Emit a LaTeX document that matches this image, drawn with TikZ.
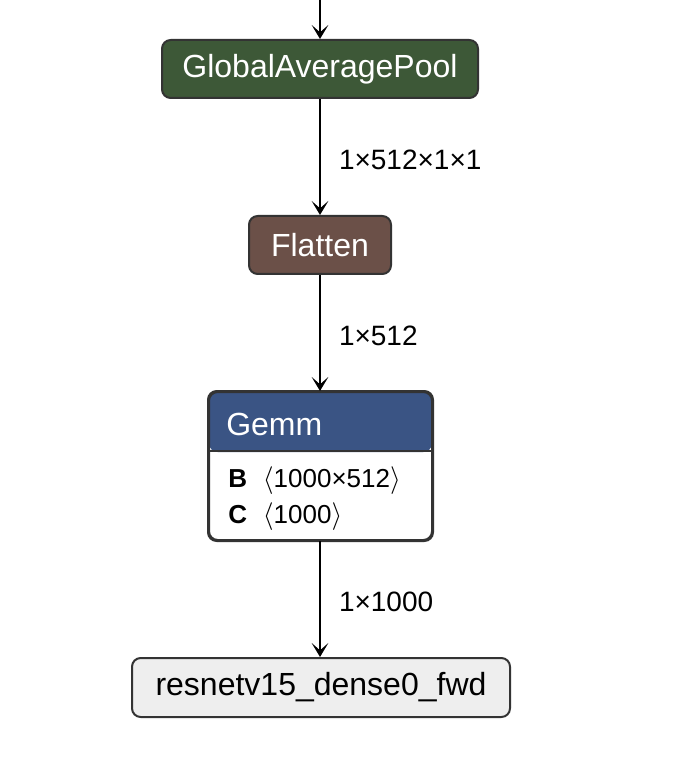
\documentclass[tikz,border=0pt]{standalone}
\usepackage{fontspec}
\setmainfont{Liberation Sans}
\usetikzlibrary{arrows.meta}
\definecolor{gapgreen}{RGB}{61,88,55}
\definecolor{flatbrown}{RGB}{107,80,72}
\definecolor{gemmblue}{RGB}{58,84,132}
\definecolor{outgray}{RGB}{238,238,238}
\definecolor{edgegray}{RGB}{51,51,51}
\newcommand{\lowr}[1]{\raisebox{-2pt}{#1}}
\tikzset{
  opbox/.style={draw=edgegray, line width=1.5pt, rounded corners=6.5pt, inner sep=0pt, align=center,
    font=\fontsize{24}{28}\selectfont},
  lbl/.style={anchor=west, inner sep=0pt, font=\fontsize{21}{25}\selectfont},
  body/.style={anchor=west, inner sep=0pt, font=\fontsize{19.5}{23}\selectfont},
  conn/.style={line width=1.5pt, -{Stealth[length=10.5pt, width=12.5pt, inset=5.5pt]}}
}
\begin{document}
\begin{tikzpicture}[x=0.75pt,y=-0.75pt]
\useasboundingbox (0,0) rectangle (680,762);
\coordinate (top) at (320,0);
\node[opbox, fill=gapgreen, text=white, minimum width=237pt, minimum height=43.5pt] (gap) at (320,69) {\lowr{GlobalAveragePool}};
\node[opbox, fill=flatbrown, text=white, minimum width=106.5pt, minimum height=43.5pt] (flat) at (320,245) {\lowr{Flatten}};
\node[opbox, fill=white, minimum width=167.25pt, minimum height=111pt,
  path picture={\fill[gemmblue] (path picture bounding box.north west) rectangle ([yshift=-45pt]path picture bounding box.north east);}] (gemm) at (320.5,466) {};
\draw[edgegray, line width=1.5pt] ([yshift=-45pt]gemm.north west) -- ([yshift=-45pt]gemm.north east);
\draw[edgegray, line width=1.5pt, rounded corners=6.5pt] (gemm.north west) rectangle (gemm.south east);
\node[anchor=west, inner sep=0pt, text=white, font=\fontsize{24}{28}\selectfont] (gemmt) at (226,424) {Gemm};
\node[body] (bline) at (228,481) {\textbf{B}\,\, $\langle$1000×512$\rangle$};
\node[body] (cline) at (228,517) {\textbf{C}\,\, $\langle$1000$\rangle$};
\node[opbox, fill=outgray, minimum width=283.5pt, minimum height=44.25pt] (out) at (321,687.5) {\lowr{resnetv15\_dense0\_fwd}};
\draw[conn] (top) -- (gap.north -| top);
\draw[conn] (gap.south -| top) -- (flat.north) node[lbl, midway, xshift=13.5pt, yshift=-2.5pt] (l1) {1×512×1×1};
\draw[conn] (flat.south) -- (flat.south |- gemm.north) node[lbl, midway, xshift=13.5pt, yshift=-2.5pt] (l2) {1×512};
\draw[conn] (flat.south |- gemm.south) -- (flat.south |- out.north) node[lbl, midway, xshift=13.5pt, yshift=-2.5pt] (l3) {1×1000};
\end{tikzpicture}
\end{document}
